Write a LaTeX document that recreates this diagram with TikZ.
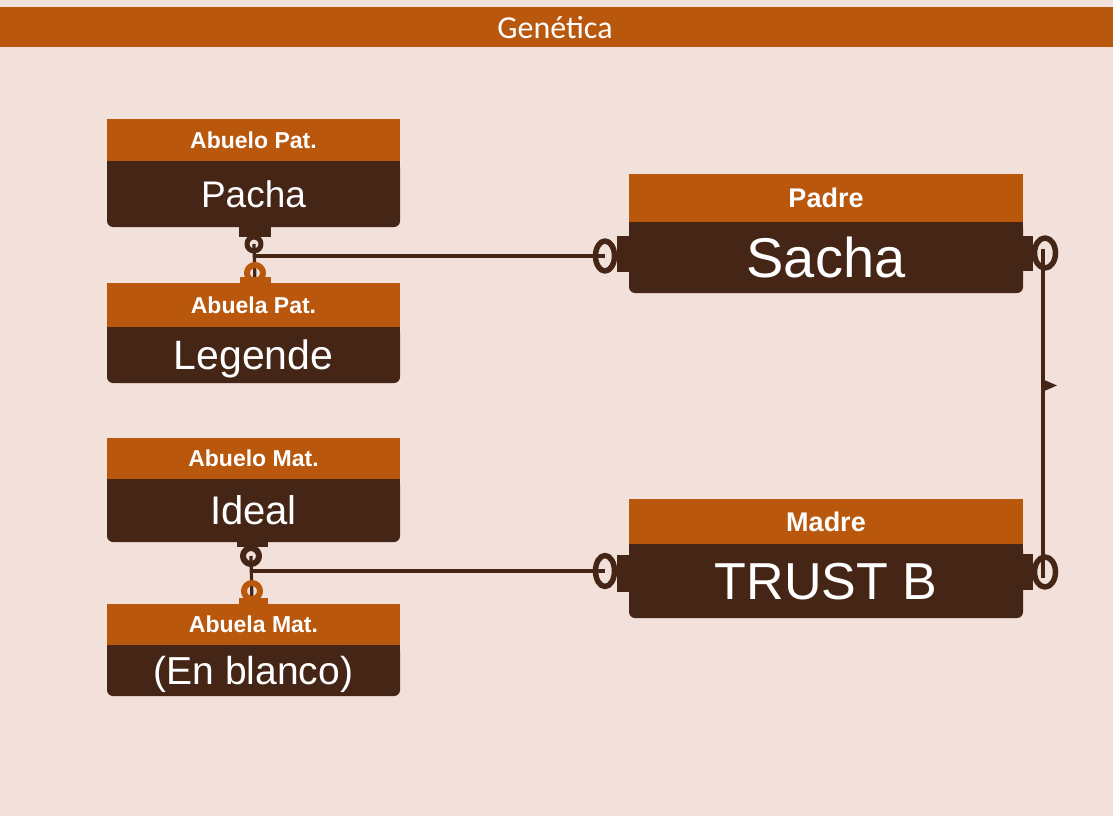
\documentclass[tikz,border=0pt]{standalone}
\usepackage{fontspec}
\setmainfont{Liberation Sans}
\newfontfamily\titulofont{Carlito}
\definecolor{fondo}{RGB}{242,224,218}
\definecolor{naranja}{RGB}{185,87,13}
\definecolor{marron}{RGB}{69,37,22}
\tikzset{
  cabecera/.style={fill=naranja, text=white, anchor=north west, inner sep=0pt, outer sep=0pt,
    font=\bfseries\fontsize{23}{26}\selectfont},
  cuerpo/.style={fill=marron, text=white, anchor=north west, inner sep=0pt, outer sep=0pt,
    rounded corners=6pt, text depth=0pt},
  linea/.style={draw=marron, line width=3.2pt},
  anillo/.style={draw=marron, line width=5.5pt},
}
\begin{document}
\begin{tikzpicture}[x=1pt, y=-1pt, line join=round]
    \useasboundingbox[fill=fondo] (0,0) rectangle (1113,816);

    % Titulo
    \fill[naranja] (0,7) rectangle (1113,47);
    \node[text=white, font=\titulofont\fontsize{32}{34}\selectfont] (titulo) at (555,28) {Genética};

    % Lado paterno
    \node[cabecera, minimum width=293, minimum height=42] (abPatC) at (107,119) {Abuelo Pat.};
    \node[cuerpo, minimum width=293, minimum height=66, font=\fontsize{37}{40}\selectfont] (abPatB) at (abPatC.south west) {Pacha};
    \fill[marron] (abPatB.north west) rectangle ([yshift=-8pt]abPatB.north east);

    \node[cabecera, minimum width=293, minimum height=44] (abaPatC) at (107,283) {Abuela Pat.};
    \node[cuerpo, minimum width=293, minimum height=56, font=\fontsize{41}{44}\selectfont] (abaPatB) at (abaPatC.south west) {Legende};
    \fill[marron] (abaPatB.north west) rectangle ([yshift=-8pt]abaPatB.north east);

    % Lado materno
    \node[cabecera, minimum width=293, minimum height=41] (abMatC) at (107,438) {Abuelo Mat.};
    \node[cuerpo, minimum width=293, minimum height=63, font=\fontsize{40}{44}\selectfont] (abMatB) at (abMatC.south west) {Ideal};
    \fill[marron] (abMatB.north west) rectangle ([yshift=-8pt]abMatB.north east);

    \node[cabecera, minimum width=293, minimum height=41] (abaMatC) at (107,604) {Abuela Mat.};
    \node[cuerpo, minimum width=293, minimum height=51, font=\fontsize{39}{42}\selectfont] (abaMatB) at (abaMatC.south west) {(En blanco)};
    \fill[marron] (abaMatB.north west) rectangle ([yshift=-8pt]abaMatB.north east);

    % Padres
    \node[cabecera, minimum width=394, minimum height=48, font=\bfseries\fontsize{27}{30}\selectfont] (padreC) at (629,174) {Padre};
    \node[cuerpo, minimum width=394, minimum height=71, font=\fontsize{56}{60}\selectfont] (padreB) at (padreC.south west) {Sacha};
    \fill[marron] (padreB.north west) rectangle ([yshift=-8pt]padreB.north east);

    \node[cabecera, minimum width=394, minimum height=45, font=\bfseries\fontsize{27}{30}\selectfont] (madreC) at (629,499) {Madre};
    \node[cuerpo, minimum width=394, minimum height=74, font=\fontsize{52}{56}\selectfont] (madreB) at (madreC.south west) {TRUST B};
    \fill[marron] (madreB.north west) rectangle ([yshift=-8pt]madreB.north east);

    % Puntos de union
    \coordinate (patArriba) at (254,244);
    \coordinate (patAbajo) at (255,273);
    \coordinate (matArriba) at (251,556);
    \coordinate (matAbajo) at (252,591);
    \coordinate (padreIzq) at (605,256);
    \coordinate (padreDer) at (1045,253);
    \coordinate (madreIzq) at (605,571);
    \coordinate (madreDer) at (1045,572);

    % Conectores
    \draw[linea] (patArriba) -- (patAbajo |- abaPatC.north);
    \draw[linea] (patArriba |- padreIzq) -- (padreIzq);
    \draw[linea] (matArriba) -- (matAbajo |- abaMatC.north);
    \draw[linea] (matArriba |- madreIzq) -- (madreIzq);
    \draw[marron, line width=3.5pt] ([xshift=-2pt, yshift=4pt]padreDer) -- ([xshift=-2pt, yshift=-6pt]madreDer);
    \fill[marron] (1042,379) -- (1057,385.5) -- (1042,392) -- cycle;

    % Extremos
    \fill[marron] (abPatB.south -| 239,0) rectangle (271,237);
    \draw[marron, line width=5pt] (patArriba) circle[radius=7];
    \draw[naranja, line width=6pt] (patAbajo) circle[radius=8];
    \fill[naranja] (240,277) rectangle (271,283);

    \fill[marron] (abMatB.south -| 237,0) rectangle (268,547);
    \draw[marron, line width=6pt] (matArriba) circle[radius=8];
    \draw[naranja, line width=6pt] (matAbajo) circle[radius=8];
    \fill[naranja] (239,598) rectangle (268,604);

    \draw[anillo] (padreIzq) ellipse[x radius=9.5, y radius=15];
    \fill[marron] (617,236) rectangle (629,272);
    \draw[anillo] (padreDer) ellipse[x radius=10.5, y radius=15];
    \fill[marron] (1023,236) rectangle (1033,271);
    \draw[anillo] (madreIzq) ellipse[x radius=9.5, y radius=15.5];
    \fill[marron] (617,555) rectangle (629,592);
    \draw[anillo] (madreDer) ellipse[x radius=10.5, y radius=15];
    \fill[marron] (1023,554) rectangle (1033,590);
\end{tikzpicture}
\end{document}
